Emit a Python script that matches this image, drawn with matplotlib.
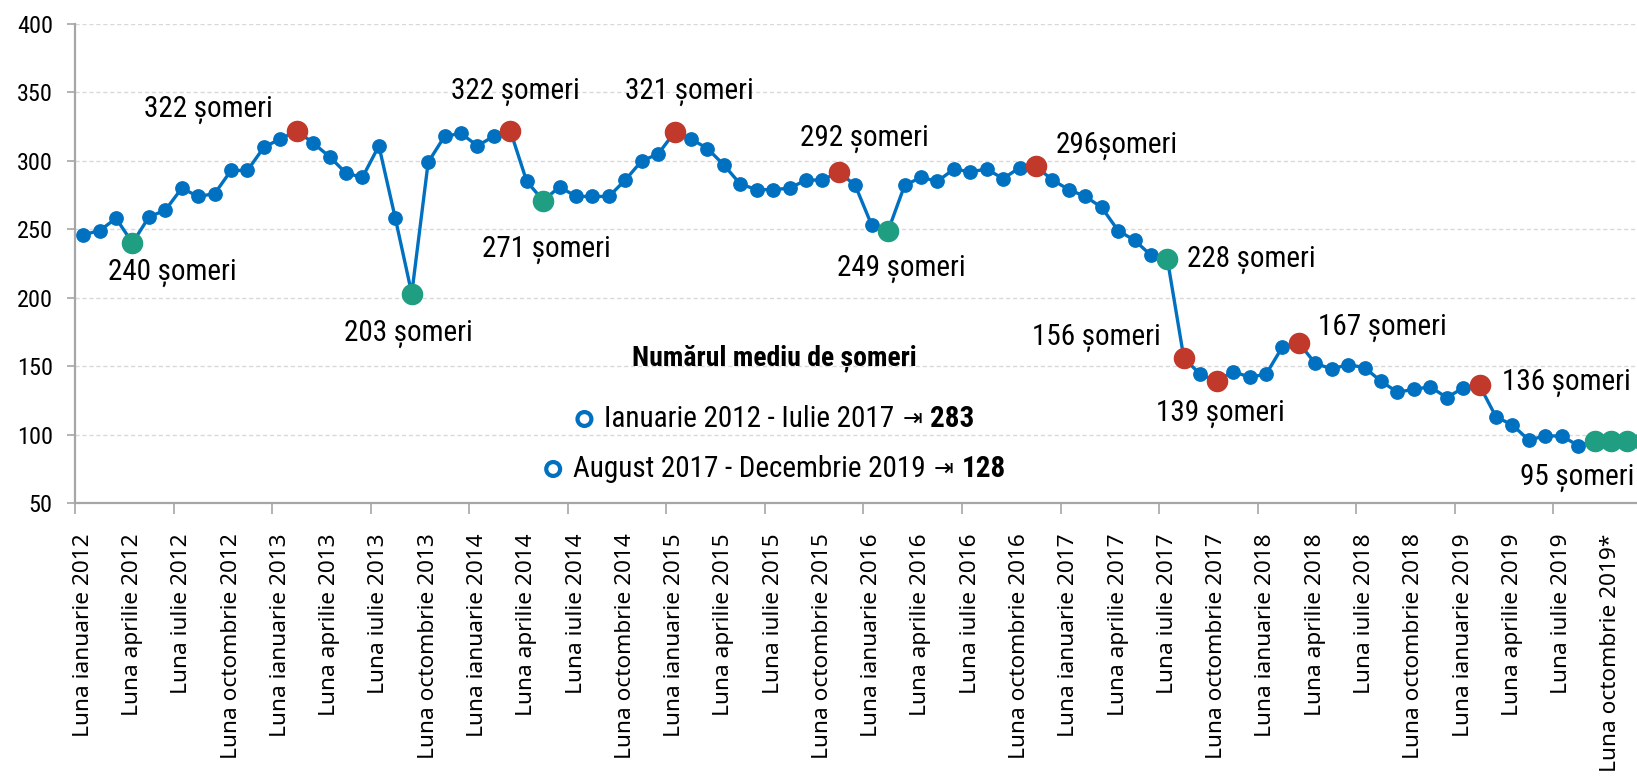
import matplotlib
matplotlib.use("Agg")
import matplotlib.pyplot as plt
from matplotlib import font_manager
from matplotlib.offsetbox import TextArea, DrawingArea, HPacker, AnchoredOffsetbox
from matplotlib.patches import Circle

# numarul de someri, lunar, ianuarie 2012 - decembrie 2019
months = ["ianuarie", "februarie", "martie", "aprilie", "mai", "iunie", "iulie",
          "august", "septembrie", "octombrie", "noiembrie", "decembrie"]
years = [2012, 2013, 2014, 2015, 2016, 2017, 2018, 2019]

unemployed = [
    246, 249, 258, 240, 259, 264, 280, 274, 276, 293, 293, 310,  # 2012
    316, 322, 313, 303, 291, 288, 311, 258, 203, 299, 318, 320,  # 2013
    311, 318, 322, 285, 271, 281, 274, 274, 274, 286, 300, 305,  # 2014
    321, 316, 309, 297, 283, 279, 279, 280, 286, 286, 292, 282,  # 2015
    253, 249, 282, 288, 285, 294, 292, 294, 287, 295, 296, 286,  # 2016
    279, 274, 266, 249, 242, 231, 228, 156, 144, 139, 146, 142,  # 2017
    144, 164, 167, 152, 148, 151, 149, 139, 131, 133, 135, 127,  # 2018
    134, 136, 113, 107, 96, 99, 99, 92, 95, 95, 95, 95,          # 2019
]

peak_idx = [13, 26, 36, 46, 58, 67, 69, 74, 85]
low_idx = [3, 20, 28, 49, 66, 92, 93, 94, 95]

note_idx = [3, 13, 20, 26, 28, 36, 46, 49, 58, 66, 67, 69, 74, 85, 93]
note_text = ["240 șomeri", "322 șomeri", "203 șomeri", "322 șomeri", "271 șomeri",
             "321 șomeri", "292 șomeri", "249 șomeri", "296șomeri", "228 șomeri",
             "156 șomeri", "139 șomeri", "167 șomeri", "136 șomeri", "95 șomeri"]

avg_periods = ["Ianuarie 2012 - Iulie 2017", "August 2017 - Decembrie 2019"]
avg_values = [283, 128]

# label offsets in pixels (layout only)
note_offset = [(40, -30), (-88, 21), (-3, -40), (5, 39), (3, -49), (15, 40), (26, 33),
               (13, -38), (81, 20), (84, 0), (-87, 20), (4, -33), (84, 15), (87, 2),
               (-34, -36)]

BLUE = "#0070C0"
RED = "#C0392B"
GREEN = "#1F9E82"
GREY = "#A6A6A6"

names = {f.name for f in font_manager.fontManager.ttflist}
narrow = "DejaVu Sans"
for cand in ["Liberation Sans Narrow", "Roboto Condensed", "Open Sans Condensed", "Noto Sans"]:
    if cand in names:
        narrow = cand
        break
NARROW = [narrow, "DejaVu Sans"]
WIDE = ["Noto Sans", "DejaVu Sans"]

fig = plt.figure(figsize=(16.37, 7.78), dpi=100)
ax = fig.add_axes([75 / 1637, 1 - 503 / 778, 1577 / 1637, 479 / 778])

x = list(range(len(unemployed)))
ax.plot(x, unemployed, color=BLUE, lw=2.4, marker="o", ms=9.6, zorder=3)
ax.plot(peak_idx, [unemployed[i] for i in peak_idx], "o", color=RED, ms=14.5, zorder=4)
ax.plot(low_idx, [unemployed[i] for i in low_idx], "o", color=GREEN, ms=14.5, zorder=4)

for i, t, (dx, dy) in zip(note_idx, note_text, note_offset):
    ax.annotate(t, xy=(i, unemployed[i]), xytext=(dx, dy), textcoords="offset pixels",
                ha="center", va="center", fontsize=21, family=NARROW)

ax.set_xlim(-0.5, len(unemployed) - 0.5)
ax.set_ylim(50, 400)
ax.set_yticks(range(50, 401, 50))
ax.tick_params(axis="y", length=6, width=1.2, color=GREY, pad=10, labelsize=17.5)
for lab in ax.get_yticklabels():
    lab.set_family(NARROW)

ax.set_xticks([k - 0.5 for k in range(0, len(unemployed) + 1, 6)])
ax.set_xticklabels([])
ax.tick_params(axis="x", which="major", length=8, width=1.2, color=GREY)
lbl_pos = list(range(0, len(unemployed), 3))
lbls = [f"Luna {months[p % 12]} {years[p // 12]}" for p in lbl_pos]
lbls[-1] += "*"
ax.set_xticks(lbl_pos, minor=True)
ax.set_xticklabels(lbls, minor=True, rotation=90, va="top", ha="center",
                   fontsize=16.3, family=WIDE)
ax.tick_params(axis="x", which="minor", length=0, pad=22)

ax.grid(axis="y", color="#D9D9D9", ls=(0, (3, 2)), lw=1)
ax.set_axisbelow(True)
for s in ["top", "right"]:
    ax.spines[s].set_visible(False)
for s in ["left", "bottom"]:
    ax.spines[s].set_color(GREY)
    ax.spines[s].set_linewidth(1.6)

# average box
title = TextArea("Numărul mediu de șomeri",
                 textprops=dict(fontsize=20, fontweight="bold", family=NARROW))
ab = AnchoredOffsetbox(loc="center", child=title, frameon=False,
                       bbox_to_anchor=(774 / 1637, 1 - 358 / 778),
                       bbox_transform=fig.transFigure, borderpad=0, pad=0)
fig.add_artist(ab)
for period, val, ypx in zip(avg_periods, avg_values, [419, 469]):
    ring = DrawingArea(16, 16, 0, 0)
    ring.add_artist(Circle((8, 8), 5, facecolor="white", edgecolor=BLUE, lw=3))
    row = HPacker(children=[ring,
                            TextArea(period, textprops=dict(fontsize=21, family=NARROW)),
                            TextArea("⇥", textprops=dict(fontsize=17, family="DejaVu Sans")),
                            TextArea(str(val), textprops=dict(fontsize=21, fontweight="bold",
                                                              family=NARROW))],
                  align="center", pad=0, sep=6)
    ab = AnchoredOffsetbox(loc="center", child=row, frameon=False,
                           bbox_to_anchor=(774 / 1637, 1 - ypx / 778),
                           bbox_transform=fig.transFigure, borderpad=0, pad=0)
    fig.add_artist(ab)

fig.savefig("out.png", dpi=100)
